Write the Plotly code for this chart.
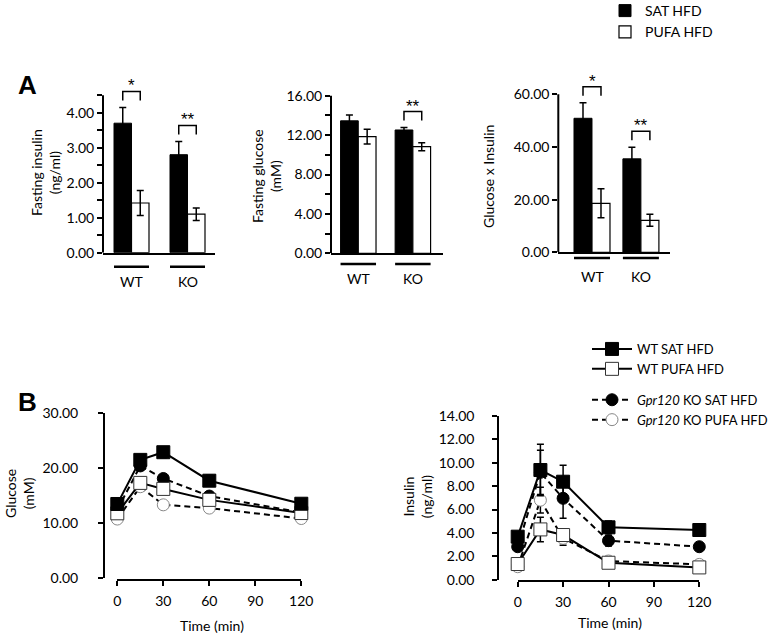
import plotly.graph_objects as go

W, H = 773, 636

# ---------------- data ----------------
groups = ["WT", "KO"]
diets = ["SAT HFD", "PUFA HFD"]

ins_sat = [3.70, 2.80]
ins_sat_err = [0.45, 0.38]
ins_pufa = [1.42, 1.10]
ins_pufa_err = [0.36, 0.18]

glu_sat = [13.45, 12.52]
glu_sat_err = [0.60, 0.25]
glu_pufa = [11.84, 10.82]
glu_pufa_err = [0.75, 0.40]

gxi_sat = [50.9, 35.5]
gxi_sat_err = [5.9, 4.4]
gxi_pufa = [18.6, 12.15]
gxi_pufa_err = [5.5, 2.3]

sig_ins = ["*", "**"]
sig_glu = ["", "**"]
sig_gxi = ["*", "**"]

time_min = [0, 15, 30, 60, 120]
series_names = ["WT SAT HFD", "WT PUFA HFD",
                "<i>Gpr120</i> KO SAT HFD", "<i>Gpr120</i> KO PUFA HFD"]

ogtt_wt_sat = [13.45, 21.5, 22.9, 17.7, 13.5]
ogtt_wt_sat_err = [0.5, 0.7, 1.0, 1.0, 0.5]
ogtt_wt_pufa = [11.75, 17.3, 16.2, 14.2, 11.8]
ogtt_wt_pufa_err = [0.5, 0.8, 0.8, 0.7, 0.5]
ogtt_ko_sat = [12.4, 20.4, 18.1, 14.9, 11.9]
ogtt_ko_sat_err = [0.5, 0.8, 0.7, 0.6, 0.4]
ogtt_ko_pufa = [10.7, 16.6, 13.3, 12.7, 10.8]
ogtt_ko_pufa_err = [0.4, 0.7, 0.5, 0.7, 0.4]

ins_wt_sat = [3.68, 9.38, 8.38, 4.48, 4.25]
ins_wt_sat_err = [0.30, 2.2, 1.4, 0.55, 0.45]
ins_wt_pufa = [1.34, 4.30, 3.82, 1.45, 1.05]
ins_wt_pufa_err = [0.20, 1.05, 0.50, 0.20, 0.15]
ins_ko_sat = [2.82, 9.18, 6.96, 3.34, 2.82]
ins_ko_sat_err = [0.30, 1.9, 1.7, 0.45, 0.15]
ins_ko_pufa = [1.11, 6.80, 3.54, 1.60, 1.31]
ins_ko_pufa_err = [0.15, 1.1, 0.60, 0.20, 0.30]

FONT = "Lato"


def px_x(x):
    return x / W


def px_y(y):
    return 1 - y / H


fig = go.Figure()
shapes = []
annotations = []

# ---------------- panel A: bar charts ----------------
bar_panels = [
    dict(n="", sat=ins_sat, sat_e=ins_sat_err, pufa=ins_pufa, pufa_e=ins_pufa_err,
         sig=sig_ins, x0=103, x1=215, ybase=252.7, ppu=35.0, ymax=5.0,
         axis_top=4.5, dtick=1.0, minor=0.5, gap=0.375, xr=[-0.509, 1.491],
         title="Fasting insulin<br>(ng/ml)", tx=45, ty=173,
         line_y=266.7, lab_y=281),
    dict(n="2", sat=glu_sat, sat_e=glu_sat_err, pufa=glu_pufa, pufa_e=glu_pufa_err,
         sig=sig_glu, x0=331, x1=442.7, ybase=253.3, ppu=9.85, ymax=18.0,
         axis_top=16.0, dtick=4.0, minor=2.0, gap=0.35, xr=[-0.50, 1.547],
         title="Fasting glucose<br>(mM)", tx=267, ty=176,
         line_y=264, lab_y=278),
    dict(n="3", sat=gxi_sat, sat_e=gxi_sat_err, pufa=gxi_pufa, pufa_e=gxi_pufa_err,
         sig=sig_gxi, x0=558.3, x1=670, ybase=252.3, ppu=2.633, ymax=66.0,
         axis_top=60.0, dtick=20.0, minor=None, gap=0.264, xr=[-0.689, 1.595],
         title="Glucose x Insulin", tx=488, ty=177,
         line_y=258, lab_y=276),
]

for i, p in enumerate(bar_panels):
    xa = "x" + p["n"]
    ya = "y" + p["n"]
    w = 1 - p["gap"]
    fig.add_trace(go.Bar(
        x=groups, y=p["sat"], name=diets[0], xaxis=xa, yaxis=ya,
        width=w / 2, offset=-w / 2,
        marker=dict(color="black", line=dict(color="black", width=1)),
        error_y=dict(type="data", array=p["sat_e"], color="black", thickness=1.5, width=3.5),
        showlegend=(i == 0), legend="legend"))
    fig.add_trace(go.Bar(
        x=groups, y=p["pufa"], name=diets[1], xaxis=xa, yaxis=ya,
        width=w / 2, offset=0,
        marker=dict(color="white", line=dict(color="black", width=1.2)),
        error_y=dict(type="data", array=p["pufa_e"], color="black", thickness=1.5, width=3.5),
        showlegend=(i == 0), legend="legend"))

    ytop_px = p["ybase"] - p["ymax"] * p["ppu"]
    xkey = "xaxis" + p["n"]
    ykey = "yaxis" + p["n"]
    fig.layout[xkey] = dict(
        domain=[px_x(p["x0"]), px_x(p["x1"])], anchor=ya, type="category",
        range=p["xr"], showline=True, linecolor="black", linewidth=2,
        showticklabels=False, ticks="", showgrid=False, zeroline=False, fixedrange=True)
    nmaj = int(round(p["axis_top"] / p["dtick"]))
    tickvals = [k * p["dtick"] for k in range(nmaj + 1)]
    ydict = dict(
        domain=[px_y(p["ybase"]), px_y(ytop_px)], anchor=xa, range=[0, p["ymax"]],
        showline=False, tickvals=tickvals, tickformat=".2f", ticks="outside",
        ticklen=5, tickwidth=1.5, tickcolor="black", showgrid=False, zeroline=False,
        tickfont=dict(family=FONT, size=14, color="black"), fixedrange=True)
    if p["minor"]:
        nmin = int(round(p["axis_top"] / p["minor"]))
        ydict["minor"] = dict(tickvals=[k * p["minor"] for k in range(nmin + 1)],
                              ticks="outside", ticklen=5, tickwidth=1.5,
                              tickcolor="black", showgrid=False)
    fig.layout[ykey] = ydict

    # y axis line (to top tick only)
    shapes.append(dict(type="line", xref=xa + " domain", yref=ya, x0=0, x1=0,
                       y0=0, y1=p["axis_top"], line=dict(color="black", width=2)))

    for gi, g in enumerate(groups):
        # group underline and label
        shapes.append(dict(type="line", xref=xa, yref="paper",
                           x0=gi - w / 2, x1=gi + w / 2,
                           y0=px_y(p["line_y"]), y1=px_y(p["line_y"]),
                           line=dict(color="black", width=2.5)))
        annotations.append(dict(text=g, xref=xa, yref="paper", x=gi, y=px_y(p["lab_y"]),
                                showarrow=False, font=dict(family=FONT, size=14, color="black"),
                                xanchor="center", yanchor="middle"))
        # significance bracket
        if p["sig"][gi]:
            top_err = max(p["sat"][gi] + p["sat_e"][gi], p["pufa"][gi] + p["pufa_e"][gi])
            b0 = top_err + 7 / p["ppu"]
            b1 = b0 + 9 / p["ppu"]
            xl = gi - w / 4
            xr_ = gi + w / 4
            shapes.append(dict(type="path", xref=xa, yref=ya,
                               path=f"M{xl},{b0} L{xl},{b1} L{xr_},{b1} L{xr_},{b0}",
                               line=dict(color="black", width=1.5)))
            annotations.append(dict(text=p["sig"][gi], xref=xa, yref=ya, x=gi, y=b1,
                                    showarrow=False, xanchor="center", yanchor="bottom",
                                    yshift=-6,
                                    font=dict(family="Liberation Sans", size=17, color="black")))

    annotations.append(dict(text=p["title"], xref="paper", yref="paper",
                            x=px_x(p["tx"]), y=px_y(p["ty"]), textangle=-90,
                            showarrow=False, xanchor="center", yanchor="middle",
                            font=dict(family=FONT, size=14, color="black")))

# ---------------- panel B: time courses ----------------
line_panels = [
    dict(n="4", data=[(ogtt_wt_sat, ogtt_wt_sat_err), (ogtt_wt_pufa, ogtt_wt_pufa_err),
                      (ogtt_ko_sat, ogtt_ko_sat_err), (ogtt_ko_pufa, ogtt_ko_pufa_err)],
         x0=117.3, x1=301.3, xline=580, ybase=577.7, ytop=413.3, yaxis_x=104,
         yrange=[0, 30], ytick=[0, 10, 20, 30], standoff=17,
         title="Glucose<br>(mM)", tx=19, ty=494, legend=False, time_x=211.7, time_y=625),
    dict(n="5", data=[(ins_wt_sat, ins_wt_sat_err), (ins_wt_pufa, ins_wt_pufa_err),
                      (ins_ko_sat, ins_ko_sat_err), (ins_ko_pufa, ins_ko_pufa_err)],
         x0=517.7, x1=699.3, xline=581, ybase=579.7, ytop=416, yaxis_x=498.3,
         yrange=[0, 14], ytick=[0, 2, 4, 6, 8, 10, 12, 14], standoff=15,
         title="Insulin<br>(ng/ml)", tx=417.5, ty=496.7, legend=True, time_x=610, time_y=622.7),
]

styles = [
    dict(symbol="square", color="black", lc="black", dash="solid", size=13, grp="wt"),
    dict(symbol="square", color="white", lc="#333333", dash="solid", size=13, grp="wt"),
    dict(symbol="circle", color="black", lc="black", dash="6px,4px", size=12, grp="ko"),
    dict(symbol="circle", color="white", lc="#888888", dash="6px,4px", size=12, grp="ko"),
]

for p in line_panels:
    xa = "x" + p["n"]
    ya = "y" + p["n"]
    for k in [3, 2, 1, 0]:
        vals, errs = p["data"][k]
        s = styles[k]
        fig.add_trace(go.Scatter(
            x=time_min, y=vals, name=series_names[k], xaxis=xa, yaxis=ya,
            mode="lines+markers", cliponaxis=False,
            line=dict(color="black", width=2, dash=s["dash"]),
            marker=dict(symbol=s["symbol"], size=s["size"], color=s["color"],
                        line=dict(color=s["lc"], width=1)),
            error_y=dict(type="data", array=errs, color="black", thickness=1.5, width=3.5),
            showlegend=p["legend"], legend="legend2", legendgroup=s["grp"],
            legendrank=k + 1))
    fig.layout["xaxis" + p["n"]] = dict(
        domain=[px_x(p["x0"]), px_x(p["x1"])], anchor="free", position=px_y(p["xline"]),
        range=[0, 120], tickvals=[0, 30, 60, 90, 120], ticks="outside", ticklen=5,
        tickwidth=1.5, tickcolor="black", showline=True, linecolor="black", linewidth=2,
        showgrid=False, zeroline=False, ticklabelstandoff=3,
        tickfont=dict(family=FONT, size=14, color="black"), fixedrange=True)
    fig.layout["yaxis" + p["n"]] = dict(
        domain=[px_y(p["ybase"]), px_y(p["ytop"])], anchor="free",
        position=px_x(p["yaxis_x"]), range=p["yrange"], tickvals=p["ytick"],
        tickformat=".2f", ticks="outside", ticklen=5, tickwidth=1.5, tickcolor="black",
        showline=True, linecolor="black", linewidth=2, showgrid=False, zeroline=False,
        ticklabelstandoff=p["standoff"],
        tickfont=dict(family=FONT, size=14, color="black"), fixedrange=True)
    annotations.append(dict(text=p["title"], xref="paper", yref="paper",
                            x=px_x(p["tx"]), y=px_y(p["ty"]), textangle=-90,
                            showarrow=False, xanchor="center", yanchor="middle",
                            font=dict(family=FONT, size=14, color="black")))
    annotations.append(dict(text="Time (min)", xref="paper", yref="paper",
                            x=px_x(p["time_x"]), y=px_y(p["time_y"]),
                            showarrow=False, xanchor="center", yanchor="middle",
                            font=dict(family=FONT, size=14, color="black")))

# panel letters
for letter, lx, ly in [("A", 28, 85), ("B", 27, 402)]:
    annotations.append(dict(text=f"<b>{letter}</b>", xref="paper", yref="paper",
                            x=px_x(lx), y=px_y(ly), showarrow=False,
                            xanchor="center", yanchor="middle",
                            font=dict(family="Liberation Sans", size=26, color="black")))

fig.update_layout(
    width=W, height=H, margin=dict(l=0, r=0, t=0, b=0, autoexpand=False),
    paper_bgcolor="white", plot_bgcolor="white",
    barmode="overlay",
    font=dict(family=FONT, size=14, color="black"),
    shapes=shapes, annotations=annotations,
    legend=dict(x=px_x(605), y=px_y(-5), xanchor="left", yanchor="top",
                bgcolor="rgba(0,0,0,0)", font=dict(family=FONT, size=14, color="black"),
                traceorder="normal", itemclick=False, itemdoubleclick=False),
    legend2=dict(x=px_x(587), y=px_y(334), xanchor="left", yanchor="top",
                 bgcolor="rgba(0,0,0,0)", font=dict(family=FONT, size=13, color="black"),
                 traceorder="grouped", tracegroupgap=11, itemwidth=40,
                 itemclick=False, itemdoubleclick=False),
)

fig.write_html("out.html", config={"displayModeBar": False},
               post_script="document.body.style.margin='0';document.body.style.padding='0';")
